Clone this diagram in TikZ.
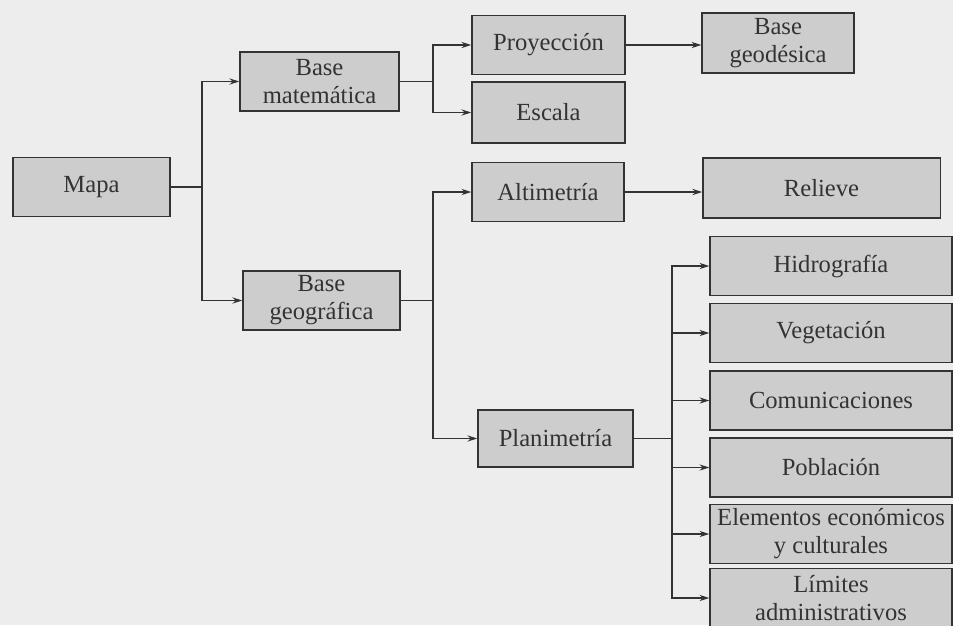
\documentclass[tikz,border=0pt]{standalone}
\usepackage{fontspec}
\setmainfont{Liberation Serif}
\usetikzlibrary{arrows.meta,positioning}
\definecolor{paper}{HTML}{EDEDED}
\definecolor{boxgray}{HTML}{CDCDCD}
\definecolor{ink}{HTML}{333333}
\begin{document}
\begin{tikzpicture}[x=0.025cm,y=-0.025cm,
    box/.style={draw=ink,line width=0.9pt,fill=boxgray,align=center,inner sep=0pt,
      minimum height=1.47cm,font=\fontsize{17.5}{20}\selectfont,text=ink},
    link/.style={draw=ink,line width=0.8pt},
    arr/.style={link,-{Stealth[length=7pt,width=4.4pt]}}]
  \fill[paper] (0,0) rectangle (953,625);
  \useasboundingbox (0,0) rectangle (953,625);
  % level 0 and 1
  \node[box,minimum width=3.93cm] (mapa) at (91.5,187) {Mapa};
  \node[box,minimum width=3.98cm] (bmat) at (319.5,81.5) {Base\\matemática};
  \node[box,minimum width=3.93cm] (bgeo) at (321.5,300.5) {Base\\geográfica};
  % level 2
  \node[box,minimum width=3.83cm] (proy) at (548.5,45) {Proyección};
  \node[box,minimum width=3.83cm,minimum height=1.53cm] (esca) at (548.5,112.5) {Escala};
  \node[box,minimum width=3.8cm] (alti) at (548,192) {Altimetría};
  \node[box,minimum width=3.88cm,minimum height=1.43cm] (plan) at (555.5,438.5) {Planimetría};
  % level 3
  \node[box,minimum width=3.8cm,minimum height=1.5cm] (geod) at (778,43) {Base\\geodésica};
  \node[box,minimum width=5.93cm,minimum height=1.5cm] (reli) at (821.5,188) {Relieve};
  \foreach \n/\y/\t in {hidr/266/Hidrografía,vege/333/Vegetación,comu/400.5/Comunicaciones,
      pobl/467.5/Población,elem/534/{Elementos económicos\\y culturales},
      limi/598/{Límites\\administrativos}}
    \node[box,minimum width=6.05cm] (\n) at (831,\y) {\t};
  % junctions
  \coordinate (j0) at (202,187);
  \coordinate (j1) at (433,81.5);
  \coordinate (j2) at (433,300.5);
  \coordinate (j3) at (672,438.5);
  \draw[link] (mapa.east) -- (j0);
  \draw[arr] (j0) |- (bmat.west);
  \draw[arr] (j0) |- (bgeo.west);
  \draw[link] (bmat.east) -- (j1);
  \draw[arr] (j1) |- (proy.west);
  \draw[arr] (j1) |- (esca.west);
  \draw[link] (bgeo.east) -- (j2);
  \draw[arr] (j2) |- (alti.west);
  \draw[arr] (j2) |- (plan.west);
  \draw[arr] (proy.east) -- (proy.east -| geod.west);
  \draw[arr] (alti.east) -- (alti.east -| reli.west);
  \draw[link] (plan.east) -- (j3);
  \foreach \n in {hidr,vege,comu,pobl,elem,limi}
    \draw[arr] (j3) |- (\n.west);
\end{tikzpicture}
\end{document}
